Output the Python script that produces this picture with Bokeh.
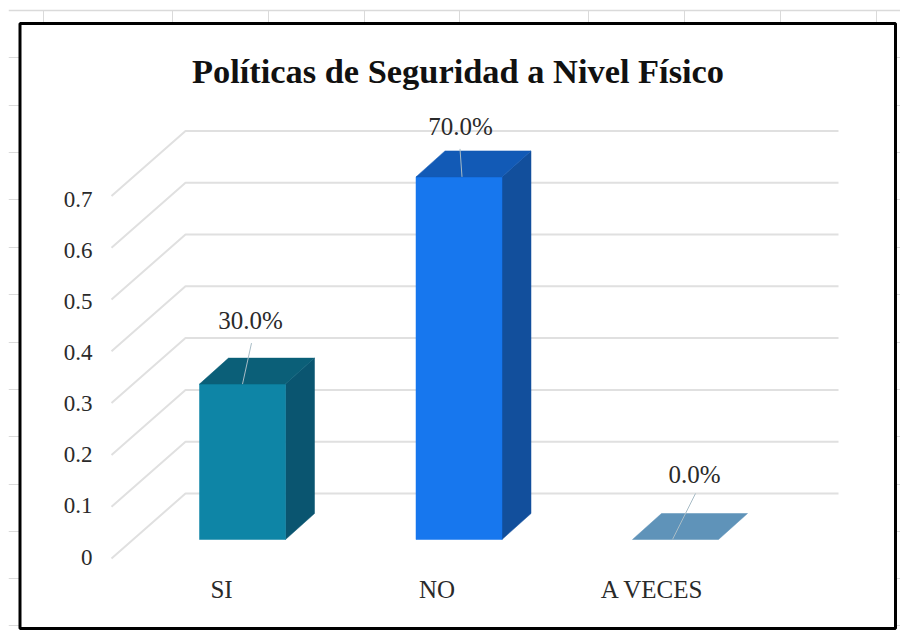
from bokeh.plotting import figure
from bokeh.models import Range1d
from bokeh.core.properties import value
from bokeh.embed import file_html
from bokeh.resources import INLINE

# ---- data ----
categories = ["SI", "NO", "A VECES"]
values = [0.30, 0.70, 0.00]
percent_labels = ["30.0%", "70.0%", "0.0%"]
tick_values = [0.0, 0.1, 0.2, 0.3, 0.4, 0.5, 0.6, 0.7]
tick_labels = ["0", "0.1", "0.2", "0.3", "0.4", "0.5", "0.6", "0.7"]
title_text = "Políticas de Seguridad a Nivel Físico"

# ---- styles ----
front_colors = ["#0E85A6", "#1777EE", "#5F93B9"]
top_colors = ["#0B5F78", "#125AB6", "#5F93B9"]
side_colors = ["#0A5570", "#124F9C", "#5F93B9"]
GRID = "#E0E0E0"
SERIF = value("Liberation Serif")
TEXT = "#2A2A2A"

# ---- mapping between the page pixels and the chart's scales ----
X0, DX = 242.0, 216.5      # pixel of first category, pixels per category
Y0, DY = 539.0, 518.0      # pixel of value 0, pixels per unit
def xd(px): return (px - X0) / DX
def yd(py): return (Y0 - py) / DY

W, H = 892, 624
p = figure(width=W, height=H, output_backend="svg", toolbar_location=None,
           x_axis_type=None, y_axis_type=None, min_border=0, outline_line_color=None,
           x_range=Range1d(xd(8), xd(900)), y_range=Range1d(yd(632), yd(8)),
           background_fill_color="white", border_fill_color="white",
           styles={"position": "absolute", "left": "8px", "top": "8px"})
p.grid.visible = False

# spreadsheet remains behind the chart
sheet = "#DADADA"
p.line([xd(8), xd(900)], [yd(10), yd(10)], line_color=sheet, line_width=1.5)
for c in [43, 172, 268, 364, 459, 588, 684, 780, 876]:
    p.line([xd(c), xd(c)], [yd(10), yd(22)], line_color=sheet, line_width=1)
for r in [57, 105, 152, 199, 247, 294, 342, 389, 436, 484, 531, 578, 625]:
    p.line([xd(8), xd(19)], [yd(r), yd(r)], line_color=sheet, line_width=1)
    p.line([xd(896), xd(900)], [yd(r), yd(r)], line_color=sheet, line_width=1)

# chart frame
p.quad(left=[xd(19.5)], right=[xd(895)], bottom=[yd(628)], top=[yd(23)],
       fill_color="white", line_color="black", line_width=3)

# walls: gridlines on the back wall, diagonals on the side wall
wall_x = xd(185)
wall_end = xd(838)
wall_lift = (539 - 493) / DY
floor_x = xd(111)
floor_drop = (558 - 493) / DY
for t in tick_values:
    yb = t + wall_lift
    p.line([floor_x, wall_x, wall_end], [yb - floor_drop, yb, yb], line_color=GRID, line_width=2)

# bars
half = 43 / DX
depth_x = 29 / DX
depth_y = 26 / DY
for i, v in enumerate(values):
    l, r = i - half, i + half
    if v > 0:
        p.patch([r, r + depth_x, r + depth_x, r], [0, depth_y, v + depth_y, v],
                fill_color=side_colors[i], line_color=side_colors[i], line_width=0.5)
        p.quad(left=[l], right=[r], bottom=[0], top=[v],
               fill_color=front_colors[i], line_color=front_colors[i], line_width=0.5)
    p.patch([l, r, r + depth_x, l + depth_x], [v, v, v + depth_y, v + depth_y],
            fill_color=top_colors[i], line_color=top_colors[i], line_width=0.5)

# leader lines and percentage labels
leader_dx = [(0.0, 9 / DX), (3 / DX, 1 / DX), (-3 / DX, 20 / DX)]
leader_rise = [41 / DY, 28 / DY, 46 / DY]
label_dx = [8 / DX, 1.5 / DX, 19 / DX]
label_rise = [64 / DY, 50 / DY, 65 / DY]
for i, v in enumerate(values):
    a, b = leader_dx[i]
    p.line([i + a, i + b], [v, v + leader_rise[i]], line_color="#A8BCC6", line_width=1)
    p.text([i + label_dx[i]], [v + label_rise[i]], text=[percent_labels[i]], text_font=SERIF,
           text_font_size="25px", text_color=TEXT, text_align="center", text_baseline="middle")

# value axis labels
label_zero = (539 - 556.5) / DY
label_step = 51.1 / DY / 0.1
p.text([xd(92)] * len(tick_values), [label_zero + t * label_step for t in tick_values],
       text=tick_labels, text_font=SERIF, text_font_size="23px", text_color=TEXT,
       text_align="right", text_baseline="middle")

# category labels
cat_dx = [-21 / DX, -22 / DX, -23 / DX]
p.text([i + d for i, d in enumerate(cat_dx)], [yd(589)] * len(categories), text=categories,
       text_font=SERIF, text_font_size="25px", text_color=TEXT,
       text_align="center", text_baseline="middle")

# title
p.text([xd(457.5)], [yd(70)], text=[title_text], text_font=SERIF, text_font_size="34.4px",
       text_font_style="bold", text_color="#111111", text_align="center", text_baseline="middle")

open("out.html", "w").write(file_html(p, INLINE))
